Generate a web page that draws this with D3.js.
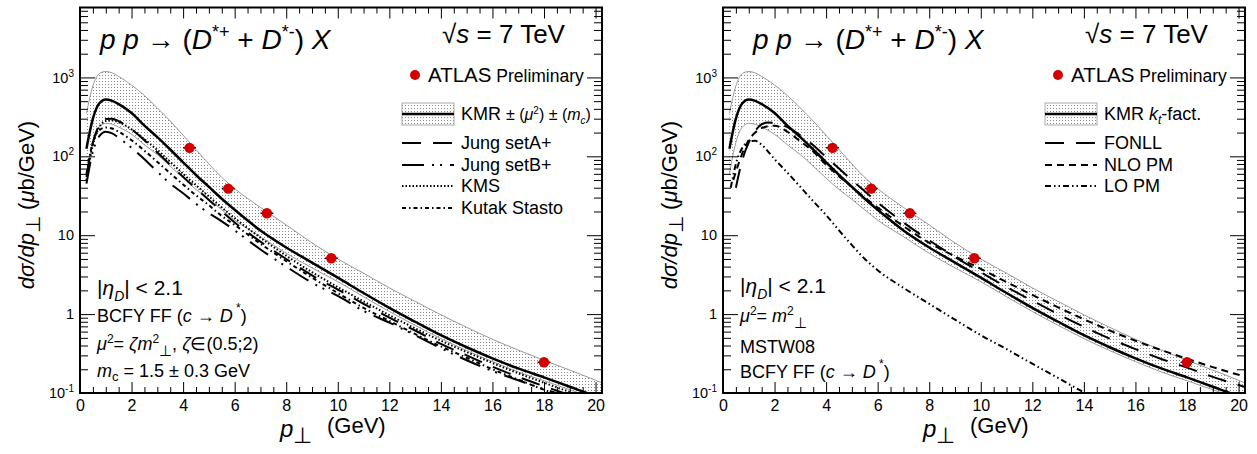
<!DOCTYPE html>
<html><head><meta charset="utf-8">
<script src="https://cdn.jsdelivr.net/npm/d3@7"></script>
<style>body{margin:0;background:#fff}svg{display:block}text{font-family:"Liberation Sans",Arial,Helvetica,sans-serif;fill:#000}</style>
</head><body><svg id="c" width="1257" height="454"></svg>
<script>
// ---------- data ----------
const kmrX       = [0.25,0.5,0.75,1,1.25,1.5,2,2.5,3,3.5,4,4.5,5,5.5,6,7,8,9,10,11,12,13,14,15,16,17,18,19,20,20.3];
const kmrCentral = [125,300,470,525,505,460,355,245,175,122,84,58,41,29,21,11.5,7.0,4.5,2.9,1.85,1.2,0.8,0.54,0.38,0.275,0.205,0.158,0.12,0.092,0.086];
const kmrUpper   = [350,780,1120,1190,1140,1030,800,590,410,280,185,122,80,54,39,22.5,13.5,8,5,3.3,2.15,1.45,0.98,0.68,0.48,0.35,0.26,0.195,0.145,0.132];
const kmrLower   = [60,150,235,262,255,235,190,140,105,75,53,38,28.5,21,15.5,9.6,5.9,3.85,2.58,1.66,1.08,0.72,0.49,0.345,0.25,0.185,0.143,0.11,0.085,0.079];

const modelX     = [0.25,0.5,0.75,1,1.25,1.5,2,2.5,3,3.5,4,4.5,5,5.5,6,7,8,9,10,11,12,13,14,15,16,17,18,19,20];
const jungA      = [55,150,250,298,300,280,220,160,112,78,55,39,28,20,14.5,8.3,5.0,3.1,2.05,1.35,0.9,0.62,0.42,0.3,0.215,0.16,0.122,0.094,0.073];
const jungB      = [45,115,180,205,195,172,128,92,64,45,34,25,19,15,11.5,6.6,4.0,2.5,1.7,1.1,0.78,0.54,0.37,0.26,0.19,0.145,0.112,0.088,0.07];
const kms        = [50,140,235,280,285,270,220,165,120,85,60,43,31,22.5,16.5,9.3,5.5,3.4,2.2,1.45,0.97,0.66,0.46,0.33,0.24,0.178,0.135,0.103,0.08];
const kutak      = [60,150,215,232,225,205,160,118,85,61,44,32,24,17.5,13.5,7.8,4.7,2.9,1.85,1.2,0.82,0.56,0.39,0.28,0.2,0.148,0.11,0.085,0.066];

const fonllX     = [0.5,0.75,1,1.25,1.5,1.75,2,2.5,3,3.5,4,4.5,5,5.5,6,7,8,9,10,11,12,13,14,15,16,17,18,19,20,20.3];
const fonll      = [40,90,150,210,255,268,265,235,185,138,98,70,50,36,26,14.5,8.6,5.3,3.4,2.2,1.48,1.0,0.69,0.49,0.36,0.27,0.21,0.16,0.126,0.118];
const nloX       = [0.4,0.6,0.8,1,1.25,1.5,2,2.5,3,3.5,4,4.5,5,5.5,6,7,8,9,10,11,12,13,14,15,16,17,18,19,20,20.3];
const nlo        = [50,80,120,160,200,228,245,205,155,115,78,56,41,30,22.5,13,8,5.4,3.75,2.55,1.75,1.22,0.86,0.62,0.46,0.35,0.272,0.213,0.17,0.16];
const loX        = [0.3,0.5,0.75,1,1.25,1.5,2,2.5,3,3.5,4,4.5,5,5.5,6,7,8,9,10,11,12,13,14,14.1];
const lo         = [40,80,128,155,157,140,92,62,41,27,18,11.5,7.5,5.0,3.6,2.15,1.35,0.85,0.54,0.36,0.235,0.155,0.102,0.098];

const atlasX     = [4.25,5.75,7.25,9.75,18];
const atlasY     = [128,39,19,5.1,0.245];
const atlasXerr  = [0.25,0.25,0.25,0.25,0.25];
const atlasYerr  = [8,2.5,1.2,0.35,0.03];

const xTickMajor = [0,2,4,6,8,10,12,14,16,18,20];
const yTickMajor = [0.1,1,10,100,1000];

// ---------- setup ----------
const svg = d3.select("#c");
const defs = svg.append("defs");
const pat = defs.append("pattern").attr("id","dots").attr("width",3).attr("height",3).attr("patternUnits","userSpaceOnUse");
pat.append("rect").attr("width",3).attr("height",3).attr("fill","#fff");
pat.append("rect").attr("width",1).attr("height",1).attr("fill","#8a8a8a");

const yTop = 7.5, yBot = 393;
const y = d3.scaleLog().domain([0.1,7700]).range([yBot,yTop]);
const yMinor = [];
for (let e=-1;e<=3;e++) for (let m=2;m<=9;m++){ const v=m*Math.pow(10,e); if (v<7700) yMinor.push(v); }
const xMinor = d3.range(0,20.26,0.5).filter(v=>v%2!==0);

function rich(sel, x, yb, size, parts, opts={}) {
  const t = sel.append("text").attr("x",x).attr("y",yb).attr("font-size",size)
    .attr("text-anchor",opts.anchor||"start");
  if (opts.transform) t.attr("transform",opts.transform);
  let cur=0;
  parts.forEach(p=>{
    const s=p.s||0;
    const ts=t.append("tspan").text(p.t).attr("dy",cur-s);
    cur=s;
    if(p.i) ts.attr("font-style","italic");
    if(p.fs) ts.attr("font-size",p.fs);
    if(p.dx) ts.attr("dx",p.dx);
  });
  return t;
}

function panel(cfg){
  const x = d3.scaleLinear().domain([0,20.25]).range([cfg.x0,cfg.x1]);
  const g = svg.append("g");
  const cid = "clip"+cfg.id;
  defs.append("clipPath").attr("id",cid).append("rect")
    .attr("x",cfg.x0).attr("y",yTop).attr("width",cfg.x1-cfg.x0).attr("height",yBot-yTop);
  const plot = g.append("g").attr("clip-path",`url(#${cid})`);

  // band
  const band = kmrX.map((v,i)=>({x:v,u:kmrUpper[i],l:kmrLower[i]}));
  plot.append("path").datum(band)
    .attr("d", d3.area().x(d=>x(d.x)).y0(d=>y(d.l)).y1(d=>y(d.u)).curve(d3.curveMonotoneX))
    .attr("fill","url(#dots)");
  const line = d3.line().x(d=>x(d[0])).y(d=>y(d[1])).curve(d3.curveMonotoneX);
  const draw = (xs,ys,w,dash,col) => plot.append("path").datum(xs.map((v,i)=>[v,ys[i]]))
    .attr("d",line).attr("fill","none").attr("stroke",col||"#000").attr("stroke-width",w)
    .attr("stroke-dasharray",dash||null);
  draw(kmrX,kmrUpper,1,null,"#999");
  draw(kmrX,kmrLower,1,null,"#999");
  cfg.curves.forEach(c=>draw(c.x,c.y,c.w,c.dash));
  draw(kmrX,kmrCentral,2.5,null);

  // data points
  const pts = plot.append("g");
  atlasX.forEach((v,i)=>{
    pts.append("line").attr("x1",x(v-atlasXerr[i])).attr("x2",x(v+atlasXerr[i]))
      .attr("y1",y(atlasY[i])).attr("y2",y(atlasY[i])).attr("stroke","#000").attr("stroke-width",1.5);
    pts.append("line").attr("x1",x(v)).attr("x2",x(v))
      .attr("y1",y(atlasY[i]-atlasYerr[i])).attr("y2",y(atlasY[i]+atlasYerr[i])).attr("stroke","#000").attr("stroke-width",1.5);
    pts.append("circle").attr("cx",x(v)).attr("cy",y(atlasY[i])).attr("r",5.2).attr("fill","#d40000");
  });

  // axes
  const ax = g.append("g").attr("font-family","Liberation Sans, Arial, sans-serif");
  const bottom = ax.append("g").attr("transform",`translate(0,${yBot})`)
    .call(d3.axisBottom(x).tickValues(xTickMajor).tickSize(-11).tickPadding(7).tickFormat(d3.format("d")));
  bottom.selectAll("text").attr("font-size",16).attr("fill","#000");
  ax.append("g").attr("transform",`translate(0,${yBot})`)
    .call(d3.axisBottom(x).tickValues(xMinor).tickSize(-6).tickFormat(""));
  ax.append("g").attr("transform",`translate(0,${yTop})`)
    .call(d3.axisTop(x).tickValues(xTickMajor).tickSize(-11).tickFormat(""));
  ax.append("g").attr("transform",`translate(0,${yTop})`)
    .call(d3.axisTop(x).tickValues(xMinor).tickSize(-6).tickFormat(""));
  const left = ax.append("g").attr("transform",`translate(${cfg.x0},0)`)
    .call(d3.axisLeft(y).tickValues(yTickMajor).tickSize(-15).tickPadding(6).tickFormat(d=>""));
  left.selectAll(".tick text").each(function(d){
    const t=d3.select(this).attr("font-size",14.5).attr("fill","#000");
    const e=Math.round(Math.log10(d));
    if (e===0){ t.append("tspan").text("1"); }
    else if (e===1){ t.append("tspan").text("10"); }
    else { t.append("tspan").text("10"); t.append("tspan").text(String(e)).attr("font-size",10).attr("dy",-6); }
  });
  ax.append("g").attr("transform",`translate(${cfg.x0},0)`)
    .call(d3.axisLeft(y).tickValues(yMinor).tickSize(-8).tickFormat(""));
  ax.append("g").attr("transform",`translate(${cfg.x1},0)`)
    .call(d3.axisRight(y).tickValues(yTickMajor).tickSize(-15).tickFormat(""));
  ax.append("g").attr("transform",`translate(${cfg.x1},0)`)
    .call(d3.axisRight(y).tickValues(yMinor).tickSize(-8).tickFormat(""));
  ax.selectAll(".domain").remove();
  ax.selectAll(".tick line").attr("stroke","#000").attr("stroke-width",1);

  g.append("rect").attr("x",cfg.x0).attr("y",yTop).attr("width",cfg.x1-cfg.x0).attr("height",yBot-yTop)
    .attr("fill","none").attr("stroke","#000").attr("stroke-width",2);

  // axis titles
  const o = cfg.x0-80;
  rich(g, 0, 0, 22, [{t:"d",i:1},{t:"σ",i:1},{t:"/",i:1},{t:"dp",i:1},{t:"⊥",s:-6,fs:20},{t:"  (",s:0},{t:"μ",i:1},{t:"b/GeV)"}],
    {anchor:"middle", transform:`translate(${34+o},205) rotate(-90)`});
  rich(g, 280+o, 437, 24, [{t:"p",i:1},{t:"⊥",s:-6,fs:22}]);
  rich(g, 327+o, 433, 22, [{t:"(GeV)"}]);

  // title
  rich(g, cfg.titleX, 49, 28, [{t:"p p ",i:1},{t:"→ ("},{t:"D",i:1},{t:"*+",s:11,fs:18},{t:" + "},{t:"D",i:1},{t:"*-",s:11,fs:18},{t:") "},{t:"X",i:1}]);
  rich(g, 442+o, 43, 26, [{t:"√"},{t:"s",i:1},{t:" = 7 TeV"}]);

  // ATLAS
  g.append("circle").attr("cx",415+o).attr("cy",75).attr("r",5).attr("fill","#d40000");
  rich(g, 428+o, 82, 20.5, [{t:"ATLAS"},{t:" Preliminary",fs:17.5}]);

  // legend
  const lx0 = 402+o, lx1 = 454+o;
  g.append("rect").attr("x",lx0).attr("y",103).attr("width",lx1-lx0).attr("height",22)
    .attr("fill","url(#dots)").attr("stroke","#aaa").attr("stroke-width",1);
  g.append("line").attr("x1",lx0).attr("x2",lx1).attr("y1",114).attr("y2",114).attr("stroke","#000").attr("stroke-width",2.5);
  rich(g, 461+o, 120, 18, cfg.legendFirst);
  cfg.curves.forEach((c,i)=>{
    const yy = cfg.legendY[i];
    g.append("line").attr("x1",lx0).attr("x2",lx1).attr("y1",yy).attr("y2",yy)
      .attr("stroke","#000").attr("stroke-width",2).attr("stroke-dasharray",c.dash);
    rich(g, 461+o, yy+6, 18, [{t:c.name}]);
  });

  // annotations
  cfg.notes.forEach(n=>rich(g, cfg.noteX, n.y, n.size, n.parts));
}

panel({
  id:"L", x0:80, x1:602, titleX:100, noteX:97,
  curves:[
    {name:"Jung setA+", x:modelX, y:jungA, w:2, dash:"19,12"},
    {name:"Jung setB+", x:modelX, y:jungB, w:2, dash:"22,8,2,6,2,8"},
    {name:"KMS", x:modelX, y:kms, w:2, dash:"1.5,2"},
    {name:"Kutak Stasto", x:modelX, y:kutak, w:2, dash:"4,3,1.5,3"}
  ],
  legendY:[143,165,186,208],
  legendFirst:[{t:"KMR "},{t:"± (",fs:16},{t:"μ",i:1,fs:16},{t:"2",s:6,fs:10},{t:") ± (",fs:16},{t:"m",i:1,fs:16},{t:"c",i:1,s:-4,fs:10},{t:")",s:0,fs:16}],
  notes:[
    {y:295, size:21, parts:[{t:"|"},{t:"η",i:1},{t:"D",i:1,s:-6,fs:14},{t:"| < 2.1",s:0}]},
    {y:322, size:18, parts:[{t:"BCFY FF ("},{t:"c",i:1},{t:" → "},{t:"D",i:1},{t:" *",s:10,fs:12},{t:")",s:0}]},
    {y:350, size:18, parts:[{t:"μ",i:1},{t:"2",s:7,fs:12},{t:"= ",s:0},{t:"ζm",i:1},{t:"2",s:7,fs:12},{t:"⊥",s:-6,fs:15},{t:", ",s:0},{t:"ζ",i:1},{t:"∈(0.5;2)"}]},
    {y:377, size:18, parts:[{t:"m",i:1},{t:"c",s:-4,fs:13},{t:" = 1.5 ± 0.3 GeV",s:0}]}
  ]
});

panel({
  id:"R", x0:723, x1:1245, titleX:753, noteX:740,
  curves:[
    {name:"FONLL", x:fonllX, y:fonll, w:2, dash:"19,12"},
    {name:"NLO PM", x:nloX, y:nlo, w:2, dash:"7,5"},
    {name:"LO PM", x:loX, y:lo, w:2, dash:"6,3,1.5,3,1.5,3"}
  ],
  legendY:[143,165,186],
  legendFirst:[{t:"KMR "},{t:"k",i:1},{t:"t",i:1,s:-4,fs:12},{t:"-fact.",s:0}],
  notes:[
    {y:293, size:21, parts:[{t:"|"},{t:"η",i:1},{t:"D",i:1,s:-6,fs:14},{t:"| < 2.1",s:0}]},
    {y:322, size:18, parts:[{t:"μ",i:1},{t:"2",s:7,fs:12},{t:"= ",s:0},{t:"m",i:1},{t:"2",s:7,fs:12},{t:"⊥",s:-6,fs:15}]},
    {y:353, size:18, parts:[{t:"MSTW08"}]},
    {y:378, size:18, parts:[{t:"BCFY FF ("},{t:"c",i:1},{t:" → "},{t:"D",i:1},{t:" *",s:10,fs:12},{t:")",s:0}]}
  ]
});
</script></body></html>
